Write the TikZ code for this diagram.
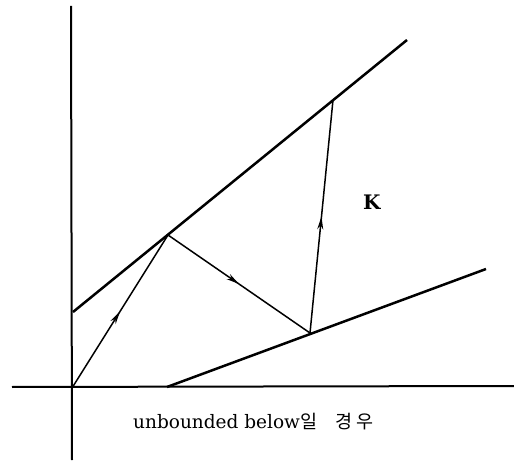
\documentclass[tikz,border=0pt]{standalone}
\usepackage{fontspec}
\setmainfont{DejaVu Serif}
\newfontfamily\kor{Noto Sans CJK KR}
\usetikzlibrary{arrows.meta,decorations.markings}
\begin{document}
\begin{tikzpicture}[x=1pt,y=-1pt,
  axisline/.style={line width=2pt},
  bound/.style={line width=2.5pt},
  ray/.style={line width=1.5pt},
  midarrow/.style={postaction={decorate},decoration={markings,
     mark=at position 0.5 with {\arrow{Stealth[length=13pt,width=6pt]}}}},
  lbl/.style={font=\fontsize{18.5}{22}\selectfont, inner sep=0pt}]
\useasboundingbox (0,0) rectangle (514,462);
\coordinate (ytop) at (71,6);
\coordinate (ybot) at (72,460);
\coordinate (xl) at (12,387);
\coordinate (xr) at (514,386);
\coordinate (O) at (72,388);
\coordinate (u1) at (73,312);
\coordinate (u2) at (407,40);
\coordinate (l1) at (167,387);
\coordinate (l2) at (486,269);
\coordinate (A) at (168,235);
\coordinate (B) at (310,333);
\coordinate (C) at (333,100);
\draw[axisline] (ytop) -- (ybot);
\draw[axisline] (xl) -- (xr);
\draw[bound] (u1) -- (u2);
\draw[bound] (l1) -- (l2);
\draw[ray, midarrow] (O) -- (A);
\draw[ray, midarrow] (A) -- (B);
\draw[ray, midarrow] (B) -- (C);
\node[lbl, anchor=base west, font=\fontsize{20}{24}\selectfont\bfseries] (K) at (363,210) {K};
\node[lbl, anchor=base west] (cap) at (133,428) {unbounded below{\kor 일\hspace{1em}경\hspace{0.2em}우}};
\end{tikzpicture}
\end{document}
